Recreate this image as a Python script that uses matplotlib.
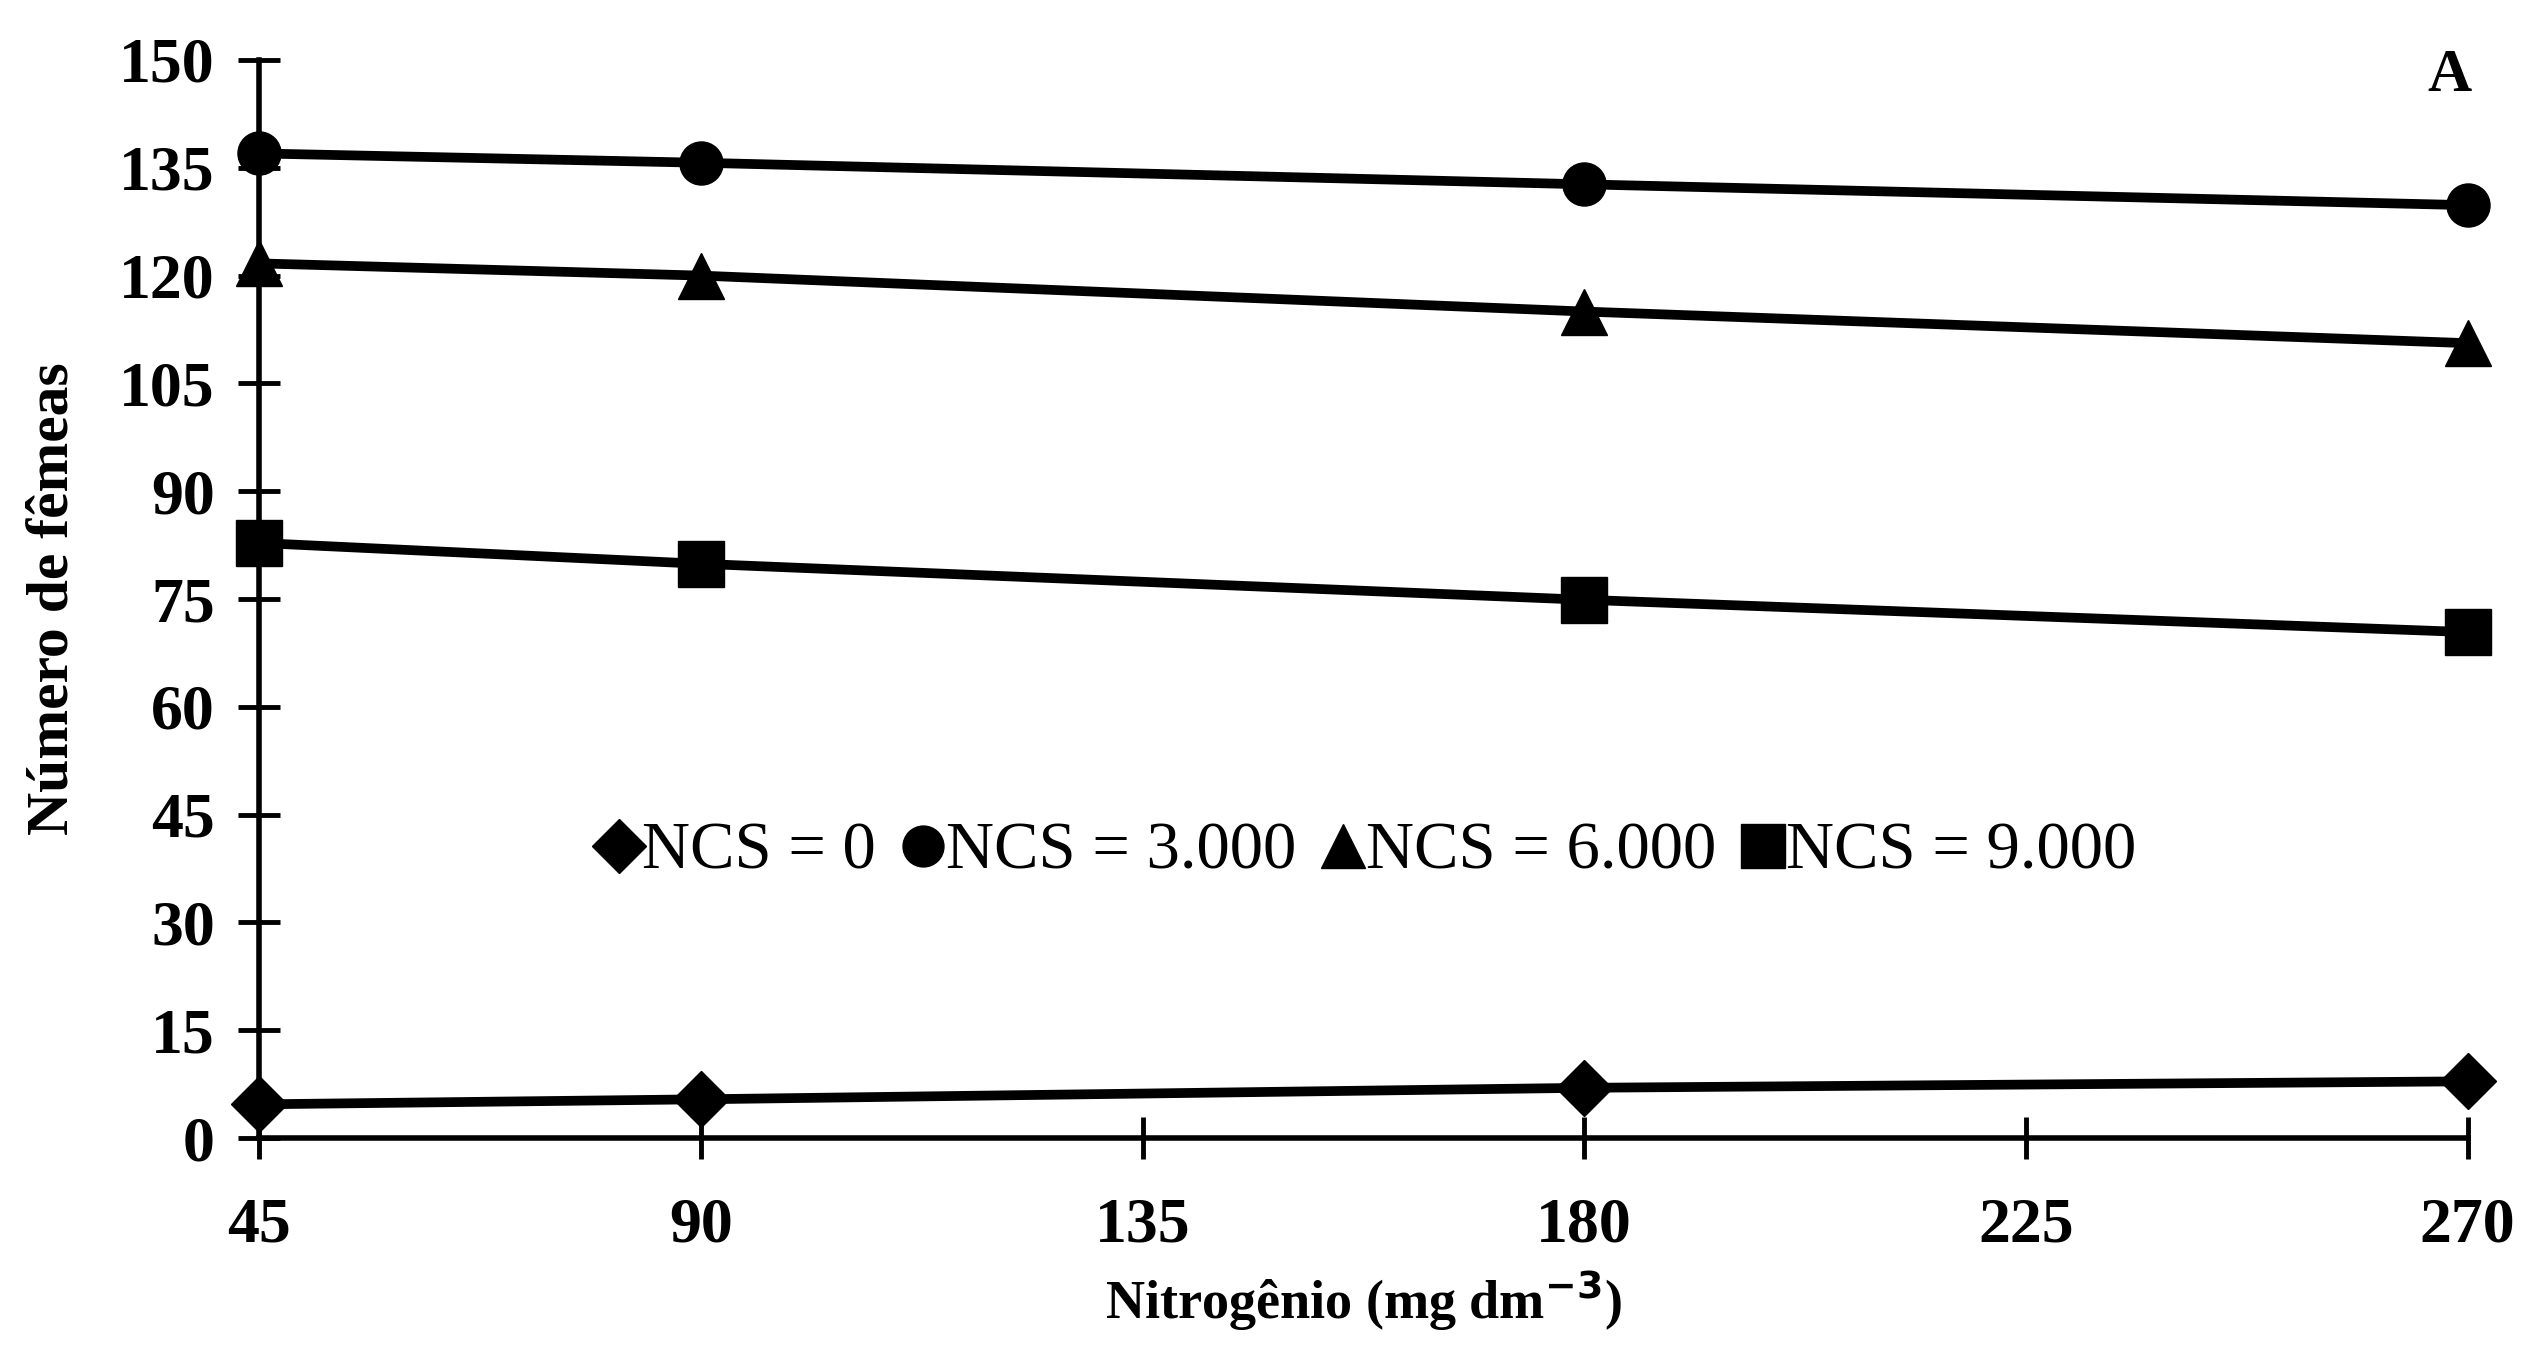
import matplotlib
matplotlib.use("Agg")
import matplotlib.pyplot as plt
from matplotlib.lines import Line2D

plt.rcParams['font.family'] = ['Liberation Serif', 'DejaVu Serif']

nitrogen = [45, 90, 180, 270]
ncs_0 = [4.7, 5.4, 7.0, 7.9]
ncs_3000 = [137.0, 135.7, 132.7, 129.8]
ncs_6000 = [121.7, 120.0, 115.0, 110.6]
ncs_9000 = [82.8, 79.9, 74.9, 70.4]
series_labels = ['NCS = 0', 'NCS = 3.000', 'NCS = 6.000', 'NCS = 9.000']
x_ticks = [45, 90, 135, 180, 225, 270]
y_ticks = list(range(0, 151, 15))

fig = plt.figure(figsize=(25.42, 13.57), dpi=100)
ax = fig.add_axes([0.1020, 0.1613, 0.8687, 0.7945])

series = [(ncs_0, 'D', 29), (ncs_3000, 'o', 31), (ncs_6000, '^', 33), (ncs_9000, 's', 33)]
for vals, mk, ms in series:
    ax.plot(nitrogen, vals, color='black', lw=7, marker=mk, markersize=ms,
            clip_on=False, zorder=3)

ax.set_xlim(45, 270)
ax.set_ylim(0, 150)
ax.set_xticks(x_ticks)
ax.set_yticks(y_ticks)
ax.set_xticklabels([str(v) for v in x_ticks], fontsize=46, fontweight='bold')
ax.set_yticklabels([str(v) for v in y_ticks], fontsize=46, fontweight='bold')

for s in ['top', 'right']:
    ax.spines[s].set_visible(False)
for s in ['left', 'bottom']:
    ax.spines[s].set_linewidth(4)
ax.tick_params(axis='both', direction='inout', length=30, width=3.5, color='black')
ax.tick_params(axis='y', pad=17)
ax.tick_params(axis='x', pad=28)

ax.set_xlabel('Nitrogênio (mg dm$^{\\mathbf{-3}}$)', fontsize=39, fontweight='bold', labelpad=9)
ax.set_ylabel('Número de fêmeas', fontsize=43, fontweight='bold', labelpad=28)

handles = [Line2D([], [], color='black', marker=mk, markersize=ms * 0.95, linestyle='none')
           for _, mk, ms in series]
ax.legend(handles, series_labels, loc='center', bbox_to_anchor=(0.502, 0.265), ncol=4,
          frameon=False, prop={'size': 48}, handlelength=0.6,
          handletextpad=0.05, columnspacing=0.4)

ax.text(0.992, 0.985, 'A', transform=ax.transAxes, fontsize=44, fontweight='bold',
        ha='center', va='center')

fig.savefig('out.png', dpi=100)
